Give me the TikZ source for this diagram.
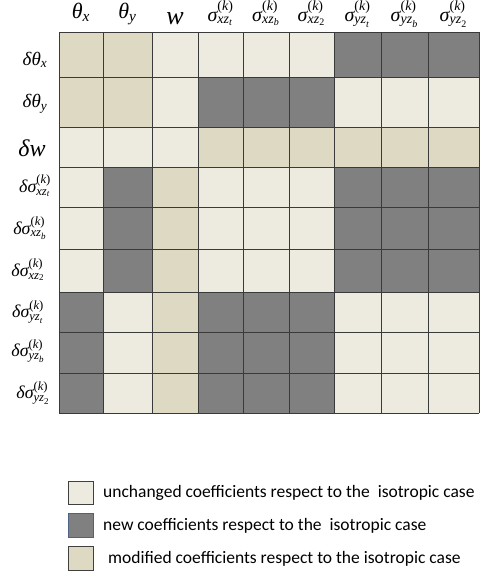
\documentclass[tikz,border=0pt]{standalone}
\usepackage{amsmath}
\usepackage{fontspec}
\setmainfont{Liberation Serif}
\newfontfamily\tnr{Liberation Serif}
\newfontfamily\legfont{Carlito}
\definecolor{cL}{HTML}{EDEBE0}
\definecolor{cT}{HTML}{DDD9C3}
\definecolor{cD}{HTML}{808080}
\definecolor{gridc}{HTML}{3A3A3A}
\definecolor{blueb}{HTML}{4F6282}
\newcommand\ti[1]{\text{\tnr\itshape #1}}
\newcommand\tu[1]{\text{\tnr\upshape #1}}
\newcommand\sg[1]{\ti{σ}^{\tu{(}\ti{k}\tu{)}}_{#1}}
\tikzset{
  hdr/.style={anchor=base, inner sep=0pt},
  lbl/.style={anchor=center, inner sep=0pt},
  legbox/.style={draw=black!75, line width=0.8pt},
  legtxt/.style={anchor=west, inner sep=0pt, font=\legfont\fontsize{17.5}{20}\selectfont}
}
\begin{document}
\begin{tikzpicture}[x=1pt,y=-1pt]
\useasboundingbox (0,0) rectangle (485,574);
\def\xs{{59,103,152,198,243,289,334,381,428,479}}
\def\ys{{32,77,127,167,207,249,292,332,373,413}}
\foreach \cols [count=\r] in {
  {T,T,L,L,L,L,D,D,D},
  {T,T,L,D,D,D,L,L,L},
  {L,L,L,T,T,T,T,T,T},
  {L,D,T,L,L,L,D,D,D},
  {L,D,T,L,L,L,D,D,D},
  {L,D,T,L,L,L,D,D,D},
  {D,L,T,D,D,D,L,L,L},
  {D,L,T,D,D,D,L,L,L},
  {D,L,T,D,D,D,L,L,L}}{
  \foreach \c [count=\i] in \cols {
    \pgfmathsetmacro\xa{\xs[\i-1]}
    \pgfmathsetmacro\xb{\xs[\i]}
    \pgfmathsetmacro\ya{\ys[\r-1]}
    \pgfmathsetmacro\yb{\ys[\r]}
    \fill[c\c] (\xa,\ya) rectangle (\xb,\yb);
  }
}
\foreach \i in {0,...,9}{
  \pgfmathsetmacro\xa{\xs[\i]}
  \draw[gridc, line width=1pt] (\xa,32) -- (\xa,413);
  \pgfmathsetmacro\ya{\ys[\i]}
  \draw[gridc, line width=1pt] (59,\ya) -- (479,\ya);
}
% headers
\begin{scope}[font=\fontsize{22}{24}\selectfont]
\node[hdr] (h1) at (81,18) {$\ti{θ}_{\ti{x}}$};
\node[hdr] (h2) at (127.5,18) {$\ti{θ}_{\ti{y}}$};
\node[hdr, font=\fontsize{26}{28}\selectfont] (h3) at (175,24) {$\ti{w}$};
\end{scope}
\begin{scope}[font=\fontsize{20}{22}\selectfont]
\node[hdr] (h4) at (220.5,21) {$\sg{\ti{xz}_{\ti{t}}}$};
\node[hdr] (h5) at (266,21) {$\sg{\ti{xz}_{\ti{b}}}$};
\node[hdr] (h6) at (311.5,21) {$\sg{\ti{xz}_{\tu{2}}}$};
\node[hdr] (h7) at (357.5,21) {$\sg{\ti{yz}_{\ti{t}}}$};
\node[hdr] (h8) at (404.5,21) {$\sg{\ti{yz}_{\ti{b}}}$};
\node[hdr] (h9) at (453.5,21) {$\sg{\ti{yz}_{\tu{2}}}$};
\end{scope}
% row labels
\begin{scope}[font=\fontsize{19}{22}\selectfont]
\node[lbl] (r1) at (35,60) {$\ti{δθ}_{\ti{x}}$};
\node[lbl] (r2) at (35,104) {$\ti{δθ}_{\ti{y}}$};
\node[lbl, font=\fontsize{24}{26}\selectfont] (r3) at (32,148) {$\ti{δw}$};
\end{scope}
\begin{scope}[font=\fontsize{18}{20}\selectfont]
\node[lbl] (r4) at (35,186) {$\ti{δ}\sg{\ti{xz}_{\ti{t}}}$};
\node[lbl] (r5) at (30,228) {$\ti{δ}\sg{\ti{xz}_{\ti{b}}}$};
\node[lbl] (r6) at (28,270) {$\ti{δ}\sg{\ti{xz}_{\tu{2}}}$};
\node[lbl] (r7) at (28,312) {$\ti{δ}\sg{\ti{yz}_{\ti{t}}}$};
\node[lbl] (r8) at (28,351) {$\ti{δ}\sg{\ti{yz}_{\ti{b}}}$};
\node[lbl] (r9) at (33,393) {$\ti{δ}\sg{\ti{yz}_{\tu{2}}}$};
\end{scope}
% legend
\fill[cL] (68,481) rectangle (93,504);
\draw[legbox] (68,481) rectangle (93,504);
\fill[cD] (68,513) rectangle (93,537);
\draw[legbox, draw=blueb] (68,513) rectangle (93,537);
\fill[cT] (68,546) rectangle (93,570);
\draw[legbox] (68,546) rectangle (93,570);
\node[legtxt] (l1) at (103,493) {unchanged coefficients respect to the \ isotropic case};
\node[legtxt] (l2) at (103,526) {new coefficients respect to the \ isotropic case};
\node[legtxt] (l3) at (108,559) {modified coefficients respect to the isotropic case};
\end{tikzpicture}
\end{document}
